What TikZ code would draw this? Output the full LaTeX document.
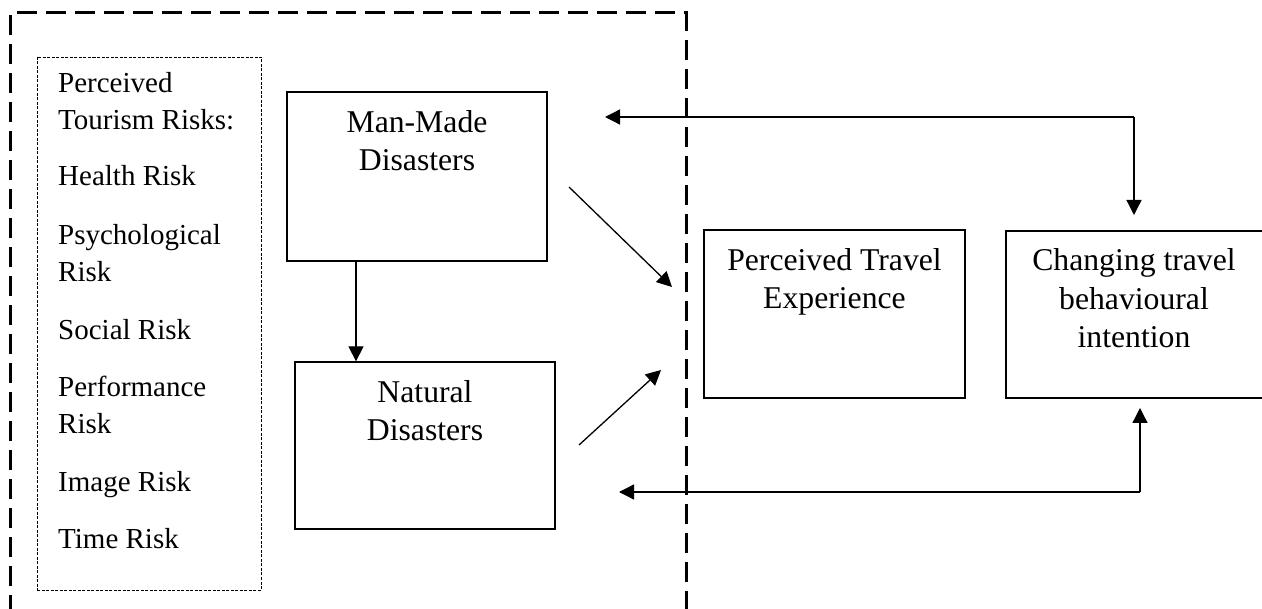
\documentclass[tikz,border=0pt]{standalone}
\usepackage{fontspec}
\setmainfont{Liberation Serif}
\usetikzlibrary{arrows.meta}
\begin{document}
\begin{tikzpicture}[x=1pt,y=-1pt,
  box/.style={draw,line width=1.3pt,inner sep=0pt,minimum width=#1},
  boxtext/.style={anchor=base,align=center,inner sep=0pt,font=\fontsize{31.7}{38.5}\selectfont},
  listitem/.style={anchor=base west,align=left,inner sep=0pt,font=\fontsize{29}{37}\selectfont},
  arr/.style={line width=1.3pt,-{Triangle[length=15pt,width=15pt]}},
  outline/.style={line width=3pt,dash pattern=on 20pt off 9pt},
  riskframe/.style={draw,line width=0.9pt,dash pattern=on 3pt off 1.5pt,inner sep=0pt}]
\useasboundingbox (0,0) rectangle (1262,609);

% large dashed frame, open at the bottom
\draw[outline] (10,615) -- (10,13) -- (686,13) -- (686,615);

% list of perceived risks (each node sits on the baseline of its last line)
\node[riskframe,minimum width=224pt,minimum height=533pt] (risks) at (149,323.5) {};
\node[listitem] (r0) at (58,130) {Perceived\\Tourism Risks:};
\node[listitem] (r1) at (58,186) {Health Risk};
\node[listitem] (r2) at (58,282) {Psychological\\Risk};
\node[listitem] (r3) at (58,340) {Social Risk};
\node[listitem] (r4) at (58,434) {Performance\\Risk};
\node[listitem] (r5) at (58,492) {Image Risk};
\node[listitem] (r6) at (58,549) {Time Risk};

% main boxes
\node[box=260pt,minimum height=169pt] (man) at (417,176.5) {};
\node[boxtext] (mantext) at (417,171) {Man-Made\\Disasters};
\node[box=260pt,minimum height=167pt] (nat) at (425,445.5) {};
\node[boxtext] (nattext) at (425,441) {Natural\\Disasters};
\node[box=261pt,minimum height=168pt] (pte) at (834.5,314) {};
\node[boxtext] (ptetext) at (834.5,309) {Perceived Travel\\Experience};
\node[box=258pt,minimum height=167pt] (ctb) at (1135,314.5) {};
\node[boxtext] (ctbtext) at (1134,348) {Changing travel\\behavioural\\intention};

% connector end points
\coordinate (mdx) at (356,0);
\coordinate (d1s) at (569,187);
\coordinate (d1e) at (672,287);
\coordinate (d2s) at (579,445);
\coordinate (d2e) at (661,370);
\coordinate (tc) at (1134,117);
\coordinate (tl) at (605,117);
\coordinate (td) at (1134,215);
\coordinate (bc) at (1140,492);
\coordinate (bl) at (619,492);
\coordinate (bu) at (1140,408);

% connectors
\draw[arr] (man.south -| mdx) -- (nat.north -| mdx);
\draw[arr] (d1s) -- (d1e);
\draw[arr] (d2s) -- (d2e);
\draw[arr] (tc) -- (tl);
\draw[arr] (tc) -- (td);
\draw[arr] (bc) -- (bl);
\draw[arr] (bc) -- (bu);
\end{tikzpicture}
\end{document}
